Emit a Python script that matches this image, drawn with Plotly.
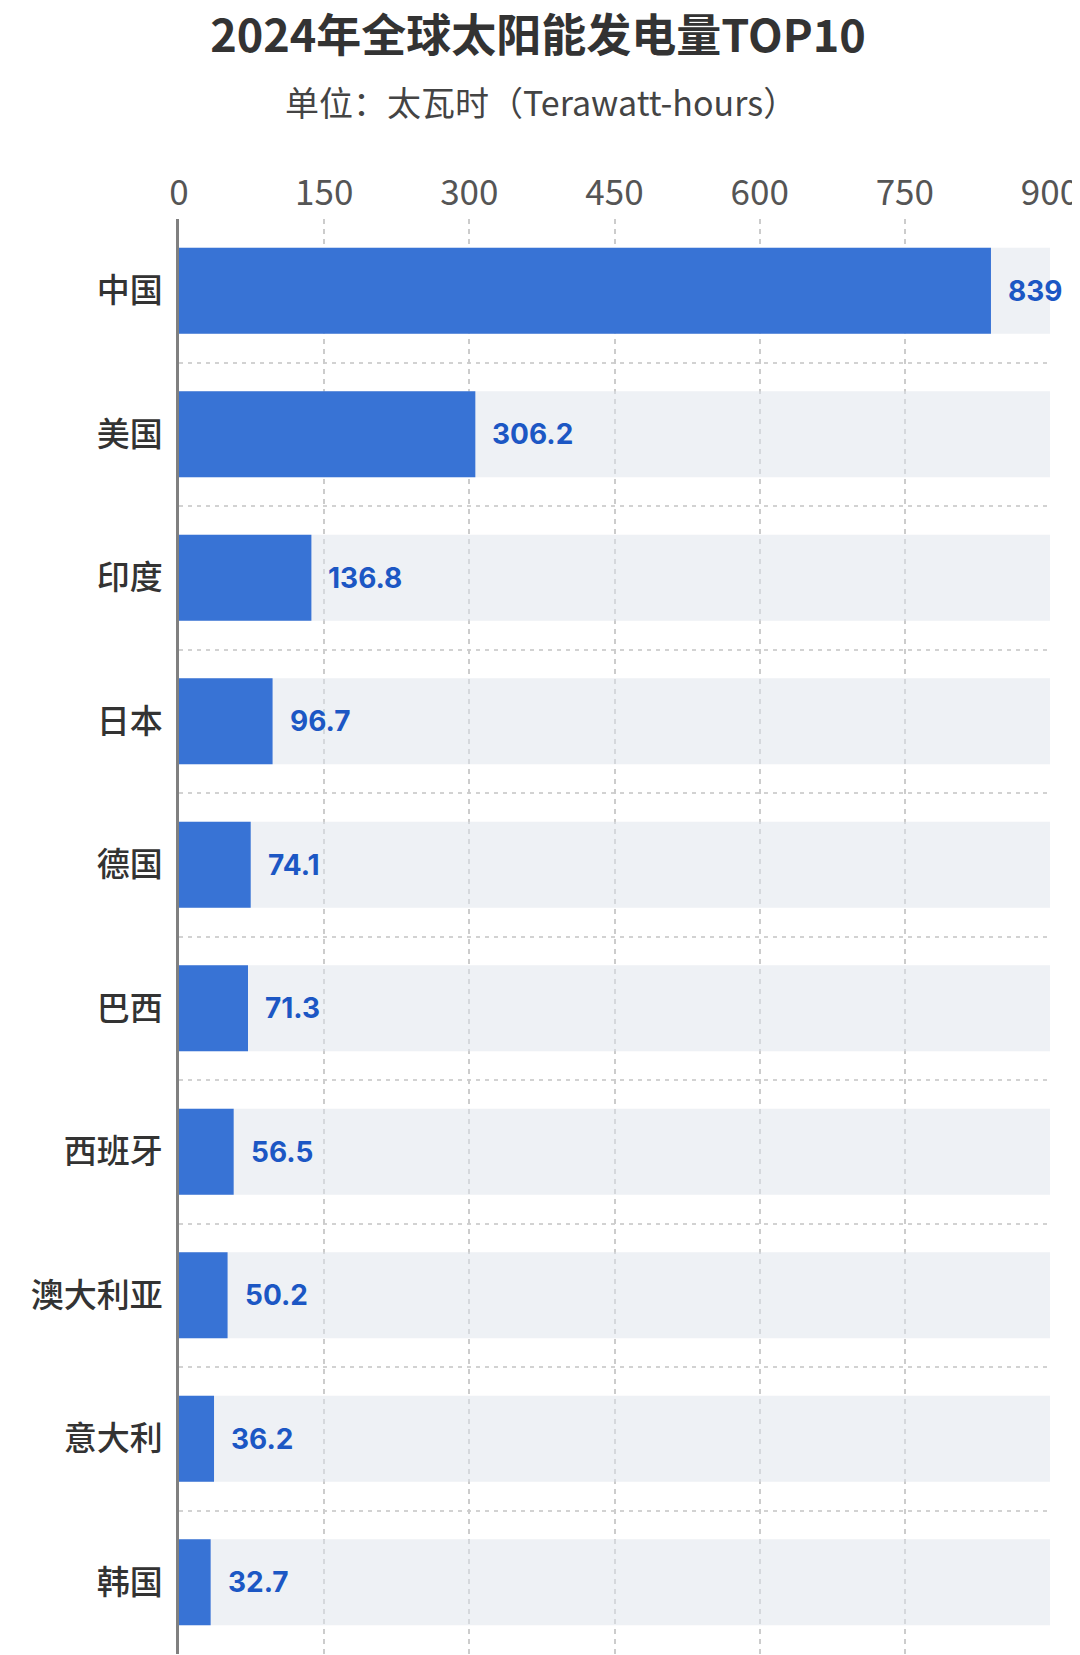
import plotly.graph_objects as go

# 2024 solar generation, top 10 countries (TWh)
countries = ['中国', '美国', '印度', '日本', '德国', '巴西', '西班牙', '澳大利亚', '意大利', '韩国']
values = [839, 306.2, 136.8, 96.7, 74.1, 71.3, 56.5, 50.2, 36.2, 32.7]
x_ticks = [0, 150, 300, 450, 600, 750, 900]

x_max = x_ticks[-1]
pos = list(range(len(countries)))
separators = [p - 0.5 for p in pos] + [pos[-1] + 0.5]

W, H = 1080, 1655
# the page body adds an 8px offset, so margins are trimmed by that
M_L, M_R, M_T, M_B = 171, 38, 211, 9

fig = go.Figure()

# light track behind each bar
fig.add_trace(go.Bar(
    x=[x_max] * len(countries),
    y=pos,
    orientation='h',
    width=0.6,
    marker=dict(color='rgba(222,227,236,0.5)', line=dict(width=0)),
    hoverinfo='skip',
    showlegend=False,
))

fig.add_trace(go.Bar(
    x=values,
    y=pos,
    orientation='h',
    width=0.6,
    marker=dict(color='#3873d5', line=dict(width=0)),
    showlegend=False,
))

# value labels to the right of the bars
for p, v in zip(pos, values):
    fig.add_annotation(
        x=v, y=p, xref='x', yref='y',
        text=f'<b>{v}</b>',
        showarrow=False,
        xanchor='left', xshift=15,
        font=dict(family='Inter, Roboto, sans-serif', size=28, color='#1c57c4'),
    )

fig.update_layout(
    width=W,
    height=H,
    paper_bgcolor='white',
    plot_bgcolor='white',
    barmode='overlay',
    margin=dict(l=M_L, r=M_R, t=M_T, b=M_B),
    font=dict(family='Noto Sans CJK SC, Noto Sans, sans-serif', color='#333333'),
    title=dict(
        text='<b>2024年全球太阳能发电量TOP10</b>',
        x=(538 - 8) / W, xanchor='center',
        y=1 - 28 / H, yanchor='middle',
        font=dict(size=45, color='#333333'),
    ),
)

plot_w = W - M_L - M_R
plot_h = H - M_T - M_B
fig.add_annotation(
    text='单位：太瓦时（Terawatt-hours）',
    xref='paper', yref='paper',
    x=(533 - M_L) / plot_w, y=1 + (M_T - 94) / plot_h,
    xanchor='center', yanchor='middle',
    showarrow=False,
    font=dict(size=34, color='#444444'),
)

fig.update_xaxes(
    side='top',
    range=[0, x_max],
    tickvals=x_ticks,
    tickfont=dict(size=35, color='#555555'),
    ticks='',
    ticklabelstandoff=6,
    showgrid=True,
    gridcolor='#cccccc',
    griddash='5px,5px',
    gridwidth=1.5,
    zeroline=False,
    showline=False,
    fixedrange=True,
)

fig.update_yaxes(
    range=[pos[-1] + 0.5, pos[0] - 0.5],
    tickvals=pos,
    ticktext=countries,
    tickfont=dict(size=33, color='#333333', weight=500),
    ticks='',
    ticklabelstandoff=7,
    showgrid=False,
    minor=dict(tickvals=separators, showgrid=True, gridcolor='#d2d2d2',
               griddash='4px,5px', gridwidth=1.5),
    zeroline=False,
    showline=True,
    linecolor='#808080',
    linewidth=2.5,
    fixedrange=True,
)

fig.write_html('out.html')
